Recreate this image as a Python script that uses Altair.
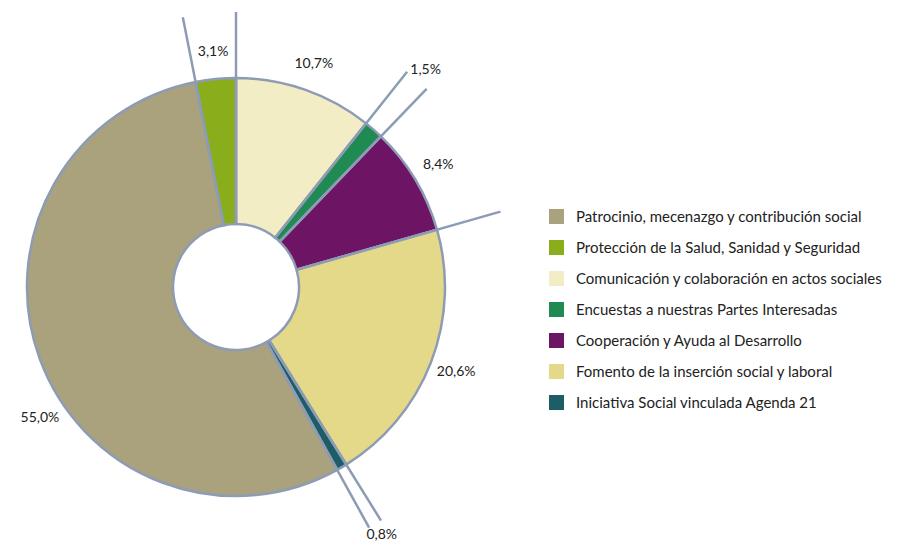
import altair as alt
import pandas as pd

# Clockwise order starting at 12 o'clock
categories = [
    "Comunicación y colaboración en actos sociales",
    "Encuestas a nuestras Partes Interesadas",
    "Cooperación y Ayuda al Desarrollo",
    "Fomento de la inserción social y laboral",
    "Iniciativa Social vinculada Agenda 21",
    "Patrocinio, mecenazgo y contribución social",
    "Protección de la Salud, Sanidad y Seguridad",
]
values = [10.7, 1.5, 8.4, 20.6, 0.8, 55.0, 3.1]
labels = ["10,7%", "1,5%", "8,4%", "20,6%", "0,8%", "55,0%", "3,1%"]

legend_order = [
    "Patrocinio, mecenazgo y contribución social",
    "Protección de la Salud, Sanidad y Seguridad",
    "Comunicación y colaboración en actos sociales",
    "Encuestas a nuestras Partes Interesadas",
    "Cooperación y Ayuda al Desarrollo",
    "Fomento de la inserción social y laboral",
    "Iniciativa Social vinculada Agenda 21",
]
legend_colors = ["#a9a27c", "#8aad1c", "#f3edc6", "#1f8a52", "#6e1465", "#e4d989", "#1d5e66"]

df = pd.DataFrame({
    "cat": categories,
    "value": values,
    "label": labels,
    "idx": list(range(len(categories))),
})

CX, CY = 228, 279
R_IN, R_OUT, R_LINE = 63, 209, 275
EDGE = "#8d9cb4"

base = alt.Chart(df).transform_joinaggregate(
    total="sum(value)"
).transform_window(
    cum="sum(value)", sort=[alt.SortField("idx")], frame=[None, 0]
).transform_calculate(
    a1="datum.cum / datum.total * 2 * PI",
    a0="(datum.cum - datum.value) / datum.total * 2 * PI",
).transform_calculate(
    am="(datum.a0 + datum.a1) / 2 + (datum.value > 50 ? -0.24 : 0)",
    lr="datum.value < 2 ? 288 : 236",
)

arcs = alt.Chart(df).mark_arc(
    innerRadius=R_IN, outerRadius=R_OUT, stroke=EDGE, strokeWidth=2.5
).encode(
    theta=alt.Theta("value:Q", stack=True),
    order=alt.Order("idx:Q"),
    color=alt.Color(
        "cat:N",
        scale=alt.Scale(domain=legend_order, range=legend_colors),
        sort=legend_order,
        legend=alt.Legend(
            orient="none", legendX=541, legendY=201, title=None,
            symbolType="square", symbolSize=225, symbolStrokeWidth=0,
            labelFont="Lato", labelFontSize=15, labelColor="#222",
            rowPadding=15, labelOffset=12, labelLimit=400,
        ),
    ),
    x=alt.value(CX),
    y=alt.value(CY),
)

rules = base.transform_calculate(
    xa=f"{CX} + {R_IN} * sin(datum.a1)",
    ya=f"{CY} - {R_IN} * cos(datum.a1)",
    xb=f"{CX} + {R_LINE} * sin(datum.a1)",
    yb=f"{CY} - {R_LINE} * cos(datum.a1)",
).mark_rule(color=EDGE, strokeWidth=2.5).encode(
    x=alt.X("xa:Q", scale=None, axis=None),
    y=alt.Y("ya:Q", scale=None, axis=None),
    x2="xb:Q",
    y2="yb:Q",
)

texts = base.transform_calculate(
    tx=f"{CX} + datum.lr * sin(datum.am)",
    ty=f"{CY} - datum.lr * cos(datum.am)",
).mark_text(font="Lato", fontSize=14, color="#222", align="center", baseline="middle").encode(
    x=alt.X("tx:Q", scale=None, axis=None),
    y=alt.Y("ty:Q", scale=None, axis=None),
    text="label:N",
)

chart = alt.layer(arcs, rules, texts).properties(
    width=900, height=520, padding=0
).configure_view(stroke=None)

chart.save("out.html", embed_options={"renderer": "svg", "actions": False})
